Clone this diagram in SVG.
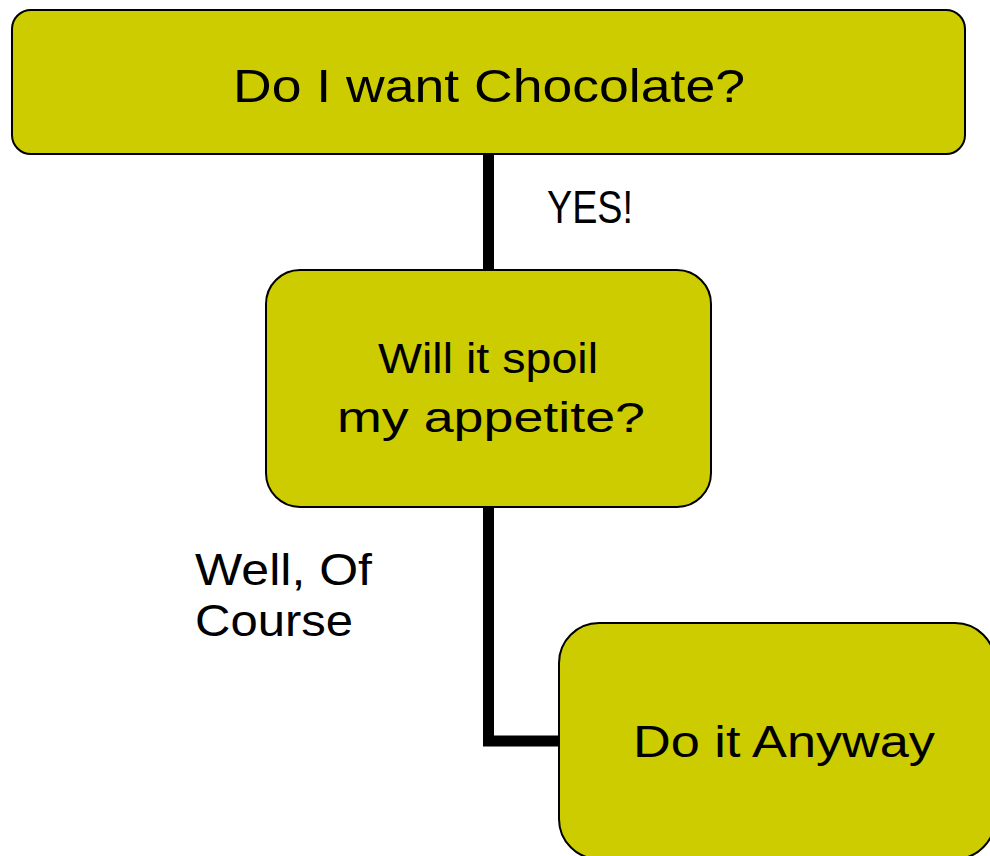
<svg xmlns="http://www.w3.org/2000/svg" width="990" height="856" viewBox="0 0 990 856">
<style>
.box{fill:#CCCC00;stroke:#000;stroke-width:2}
.conn{fill:none;stroke:#000;stroke-width:11;stroke-linejoin:miter}
.t{font-family:"Liberation Sans","DejaVu Sans",sans-serif;fill:#000}
</style>
<rect width="990" height="856" fill="#fff"/>
<g id="connectors">
<line class="conn" x1="488.5" y1="154" x2="488.5" y2="270"/>
<polyline class="conn" points="488.5,507 488.5,741 560,741"/>
</g>
<g id="node-chocolate">
<rect class="box" x="12" y="10" width="953" height="144" rx="19" ry="19"/>
<text class="t" x="233" y="102" font-size="46" textLength="512" lengthAdjust="spacingAndGlyphs">Do I want Chocolate?</text>
</g>
<g id="label-yes">
<text class="t" x="547" y="223" font-size="46" textLength="86" lengthAdjust="spacingAndGlyphs">YES!</text>
</g>
<g id="node-spoil">
<rect class="box" x="266" y="270" width="445" height="237" rx="34" ry="34"/>
<text class="t" x="378" y="373" font-size="42" textLength="220" lengthAdjust="spacingAndGlyphs">Will it spoil</text>
<text class="t" x="337" y="432" font-size="42" textLength="308" lengthAdjust="spacingAndGlyphs">my appetite?</text>
</g>
<g id="label-course">
<text class="t" x="195" y="585" font-size="44" textLength="177" lengthAdjust="spacingAndGlyphs">Well, Of</text>
<text class="t" x="195" y="636" font-size="44" textLength="158" lengthAdjust="spacingAndGlyphs">Course</text>
</g>
<g id="node-anyway">
<rect class="box" x="559" y="623" width="436" height="236" rx="40" ry="40"/>
<text class="t" x="633" y="757" font-size="44" textLength="302" lengthAdjust="spacingAndGlyphs">Do it Anyway</text>
</g>
</svg>
